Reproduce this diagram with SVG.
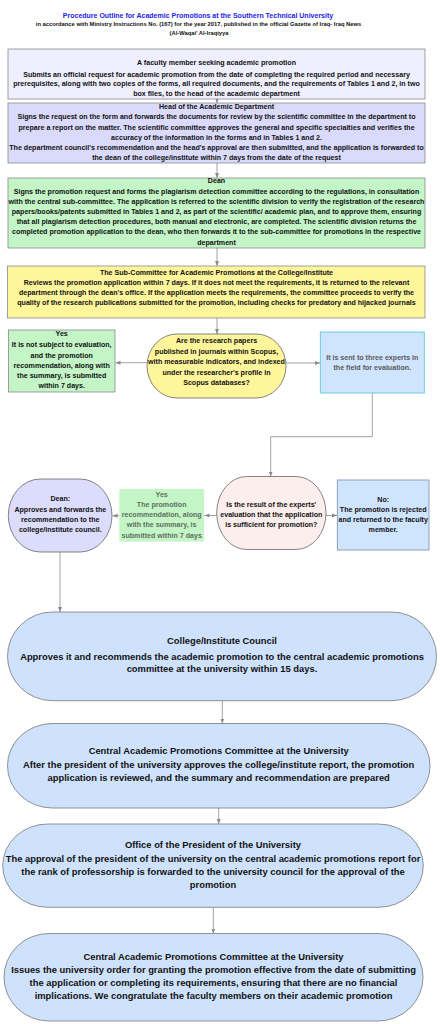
<svg xmlns="http://www.w3.org/2000/svg" width="440" height="1024" viewBox="0 0 440 1024">
<style>
text{font-family:"Liberation Sans",Arial,sans-serif;font-weight:bold;text-anchor:middle;fill:#111111}
.t7{font-size:7.1px}
.big{font-size:9.4px}
.gray{fill:#5a5a5a}
.box{stroke:#8a8a8a;stroke-width:0.8}
.con{fill:none;stroke:#8a8a8a;stroke-width:0.8}
</style>
<defs>
<marker id="ah" markerWidth="6" markerHeight="6" refX="5" refY="3" orient="auto" markerUnits="userSpaceOnUse">
<path d="M0,1 L5,3 L0,5 z" fill="#8a8a8a"/>
</marker>
</defs>
<rect width="440" height="1024" fill="#ffffff"/>

<g id="header">
<text x="198" y="17.5" style="font-size:7px;fill:#2323e6">Procedure Outline for Academic Promotions at the Southern Technical University</text>
<text x="198.5" y="26.2" style="font-size:5.8px">in accordance with Ministry Instructions No. (167) for the year 2017, published in the official Gazette of Iraq- Iraq News</text>
<text x="199" y="35.3" style="font-size:5.8px">(Al-Waqai' Al-Iraqiyya</text>
</g>

<g id="connectors">
<path class="con" d="M217,99 V103" marker-end="url(#ah)"/>
<path class="con" d="M217,163 V178" marker-end="url(#ah)"/>
<path class="con" d="M217,248 V266" marker-end="url(#ah)"/>
<path class="con" d="M217,318 V334" marker-end="url(#ah)"/>
<path class="con" d="M147,362.7 H115.5" marker-end="url(#ah)"/>
<path class="con" d="M286,363 H320" marker-end="url(#ah)"/>
<path class="con" d="M372.3,393 V436.7 H270.7 V476.5" marker-end="url(#ah)"/>
<path class="con" d="M216.7,515.5 H204.5" marker-end="url(#ah)"/>
<path class="con" d="M119,515.7 H112.5" marker-end="url(#ah)"/>
<path class="con" d="M326,515.5 H337" marker-end="url(#ah)"/>
<path class="con" d="M60,552 V612" marker-end="url(#ah)"/>
<path class="con" d="M222.3,700.7 V723.5" marker-end="url(#ah)"/>
<path class="con" d="M218.7,808 V824" marker-end="url(#ah)"/>
<path class="con" d="M213.3,907.3 V933.5" marker-end="url(#ah)"/>
</g>

<g id="n-faculty">
<rect class="box" x="8" y="49" width="417" height="50" fill="#efefff"/>
<text class="t7" x="216.5" y="64.5">A faculty member seeking academic promotion</text>
<text class="t7" x="216.5" y="76.5">Submits an official request for academic promotion from the date of completing the required period and necessary</text>
<text class="t7" x="216.5" y="86.3">prerequisites, along with two copies of the forms, all required documents, and the requirements of Tables 1 and 2, in two</text>
<text class="t7" x="216.5" y="96">box files, to the head of the academic department</text>
</g>

<g id="n-head">
<rect class="box" x="8" y="103" width="417" height="60" fill="#dadafc"/>
<text class="t7" x="216.5" y="109.1">Head of the Academic Department</text>
<text class="t7" x="216.5" y="119.2">Signs the request on the form and forwards the documents for review by the scientific committee in the department to</text>
<text class="t7" x="216.5" y="129.5">prepare a report on the matter. The scientific committee approves the general and specific specialties and verifies the</text>
<text class="t7" x="216.5" y="139.6">accuracy of the information in the forms and in Tables 1 and 2.</text>
<text class="t7" x="216.5" y="149.8">The department council's recommendation and the head's approval are then submitted, and the application is forwarded to</text>
<text class="t7" x="216.5" y="160">the dean of the college/institute within 7 days from the date of the request</text>
</g>

<g id="n-dean">
<rect class="box" x="8" y="178" width="417" height="70" fill="#c3f5c6"/>
<text class="t7" x="216.5" y="183.4">Dean</text>
<text class="t7" x="216.5" y="194">Signs the promotion request and forms the plagiarism detection committee according to the regulations, in consultation</text>
<text class="t7" x="216.5" y="204.1">with the central sub-committee. The application is referred to the scientific division to verify the registration of the research</text>
<text class="t7" x="216.5" y="214.1">papers/books/patents submitted in Tables 1 and 2, as part of the scientific/ academic plan, and to approve them, ensuring</text>
<text class="t7" x="216.5" y="224.1">that all plagiarism detection procedures, both manual and electronic, are completed. The scientific division returns the</text>
<text class="t7" x="216.5" y="234.1">completed promotion application to the dean, who then forwards it to the sub-committee for promotions in the respective</text>
<text class="t7" x="216.5" y="244.6">department</text>
</g>

<g id="n-subcommittee">
<rect class="box" x="7.5" y="266" width="417.5" height="52" fill="#fff69c"/>
<text class="t7" x="216.5" y="275.1">The Sub-Committee for Academic Promotions at the College/Institute</text>
<text class="t7" x="216.5" y="284.9">Reviews the promotion application within 7 days. If it does not meet the requirements, it is returned to the relevant</text>
<text class="t7" x="216.5" y="294.8">department through the dean's office. If the application meets the requirements, the committee proceeds to verify the</text>
<text class="t7" x="216.5" y="304.7">quality of the research publications submitted for the promotion, including checks for predatory and hijacked journals</text>
</g>

<g id="n-yes1">
<rect class="box" x="8.5" y="330" width="106.5" height="62" fill="#c3f5c6"/>
<text class="t7" x="61.7" y="336.3">Yes</text>
<text class="t7" x="61.7" y="347.3">It is not subject to evaluation,</text>
<text class="t7" x="61.7" y="357.6">and the promotion</text>
<text class="t7" x="61.7" y="368">recommendation, along with</text>
<text class="t7" x="61.7" y="378">the summary, is submitted</text>
<text class="t7" x="61.7" y="388">within 7 days.</text>
</g>

<g id="n-scopus">
<rect x="147" y="334" width="139" height="64" rx="30" ry="32" fill="#fff69c" stroke="#666" stroke-width="0.8"/>
<text class="t7" x="216.5" y="343.4">Are the research papers</text>
<text class="t7" x="216.5" y="353.6">published in journals within Scopus,</text>
<text class="t7" x="216.5" y="364.1">with measurable indicators, and indexed</text>
<text class="t7" x="216.5" y="374.6">under the researcher's profile in</text>
<text class="t7" x="216.5" y="384.6">Scopus databases?</text>
</g>

<g id="n-experts">
<rect x="320.3" y="332" width="104" height="61" fill="#cfe4ff" stroke="#5ccbd8" stroke-width="0.9"/>
<text class="t7 gray" x="372.3" y="360">It is sent to three experts in</text>
<text class="t7 gray" x="372.3" y="370">the field for evaluation.</text>
</g>

<g id="n-dean2">
<rect x="8.3" y="479" width="103.7" height="73" rx="32" ry="36.5" fill="#dcdcfc" stroke="#666" stroke-width="0.8"/>
<text class="t7" x="60.3" y="501.3">Dean:</text>
<text class="t7" x="60.3" y="511.6">Approves and forwards the</text>
<text class="t7" x="60.3" y="521.6">recommendation to the</text>
<text class="t7" x="60.3" y="531.6">college/institute council.</text>
</g>

<g id="n-yes2">
<rect x="119.3" y="489" width="84.7" height="52.5" rx="1.5" fill="#c3f5c6" stroke="#d8efda" stroke-width="0.5"/>
<text class="t7" x="161.7" y="496.6" style="fill:#5f6f5f">Yes</text>
<text class="t7" x="161.7" y="506.6" style="fill:#5f6f5f">The promotion</text>
<text class="t7" x="161.7" y="517.3" style="fill:#5f6f5f">recommendation, along</text>
<text class="t7" x="161.7" y="527.3" style="fill:#5f6f5f">with the summary, is</text>
<text class="t7" x="161.7" y="538" style="fill:#5f6f5f">submitted within 7 days</text>
</g>

<g id="n-experts-result">
<rect x="216.7" y="476.5" width="109.3" height="73" rx="30" ry="36.5" fill="#fdeeee" stroke="#666" stroke-width="0.8"/>
<text class="t7" x="271.3" y="506.6">Is the result of the experts'</text>
<text class="t7" x="271.3" y="516.6">evaluation that the application</text>
<text class="t7" x="271.3" y="526.6">is sufficient for promotion?</text>
</g>

<g id="n-no">
<rect x="337.3" y="480" width="91.7" height="70" fill="#cfe4ff" stroke="#7a8cab" stroke-width="0.8"/>
<text class="t7" x="383.2" y="502.3">No:</text>
<text class="t7" x="383.2" y="511.6">The promotion is rejected</text>
<text class="t7" x="383.2" y="521.6">and returned to the faculty</text>
<text class="t7" x="383.2" y="531.6">member.</text>
</g>

<g id="n-council">
<rect x="7.5" y="612" width="429" height="88.7" rx="45" ry="44.3" fill="#cfe2fd" stroke="#777" stroke-width="0.8"/>
<text class="big" x="222" y="644.3">College/Institute Council</text>
<text class="big" x="222" y="660">Approves it and recommends the academic promotion to the central academic promotions</text>
<text class="big" x="222" y="672.3">committee at the university within 15 days.</text>
</g>

<g id="n-central1">
<rect x="7.5" y="723.5" width="422.5" height="84.5" rx="45" ry="42" fill="#cfe2fd" stroke="#777" stroke-width="0.8"/>
<text class="big" x="218.7" y="754.3">Central Academic Promotions Committee at the University</text>
<text class="big" x="218.7" y="767.6">After the president of the university approves the college/institute report, the promotion</text>
<text class="big" x="218.7" y="781">application is reviewed, and the summary and recommendation are prepared</text>
</g>

<g id="n-president">
<rect x="2.7" y="824" width="420.6" height="83.3" rx="45" ry="41.6" fill="#cfe2fd" stroke="#777" stroke-width="0.8"/>
<text class="big" x="213" y="848.3">Office of the President of the University</text>
<text class="big" x="213" y="861.6">The approval of the president of the university on the central academic promotions report for</text>
<text class="big" x="213" y="875">the rank of professorship is forwarded to the university council for the approval of the</text>
<text class="big" x="213" y="888.3">promotion</text>
</g>

<g id="n-central2">
<rect x="4" y="933.5" width="419" height="87.5" rx="45" ry="43.7" fill="#cfe2fd" stroke="#777" stroke-width="0.8"/>
<text class="big" x="213.5" y="960">Central Academic Promotions Committee at the University</text>
<text class="big" x="213.5" y="973.3">Issues the university order for granting the promotion effective from the date of submitting</text>
<text class="big" x="213.5" y="985.6">the application or completing its requirements, ensuring that there are no financial</text>
<text class="big" x="213.5" y="999">implications. We congratulate the faculty members on their academic promotion</text>
</g>
</svg>
